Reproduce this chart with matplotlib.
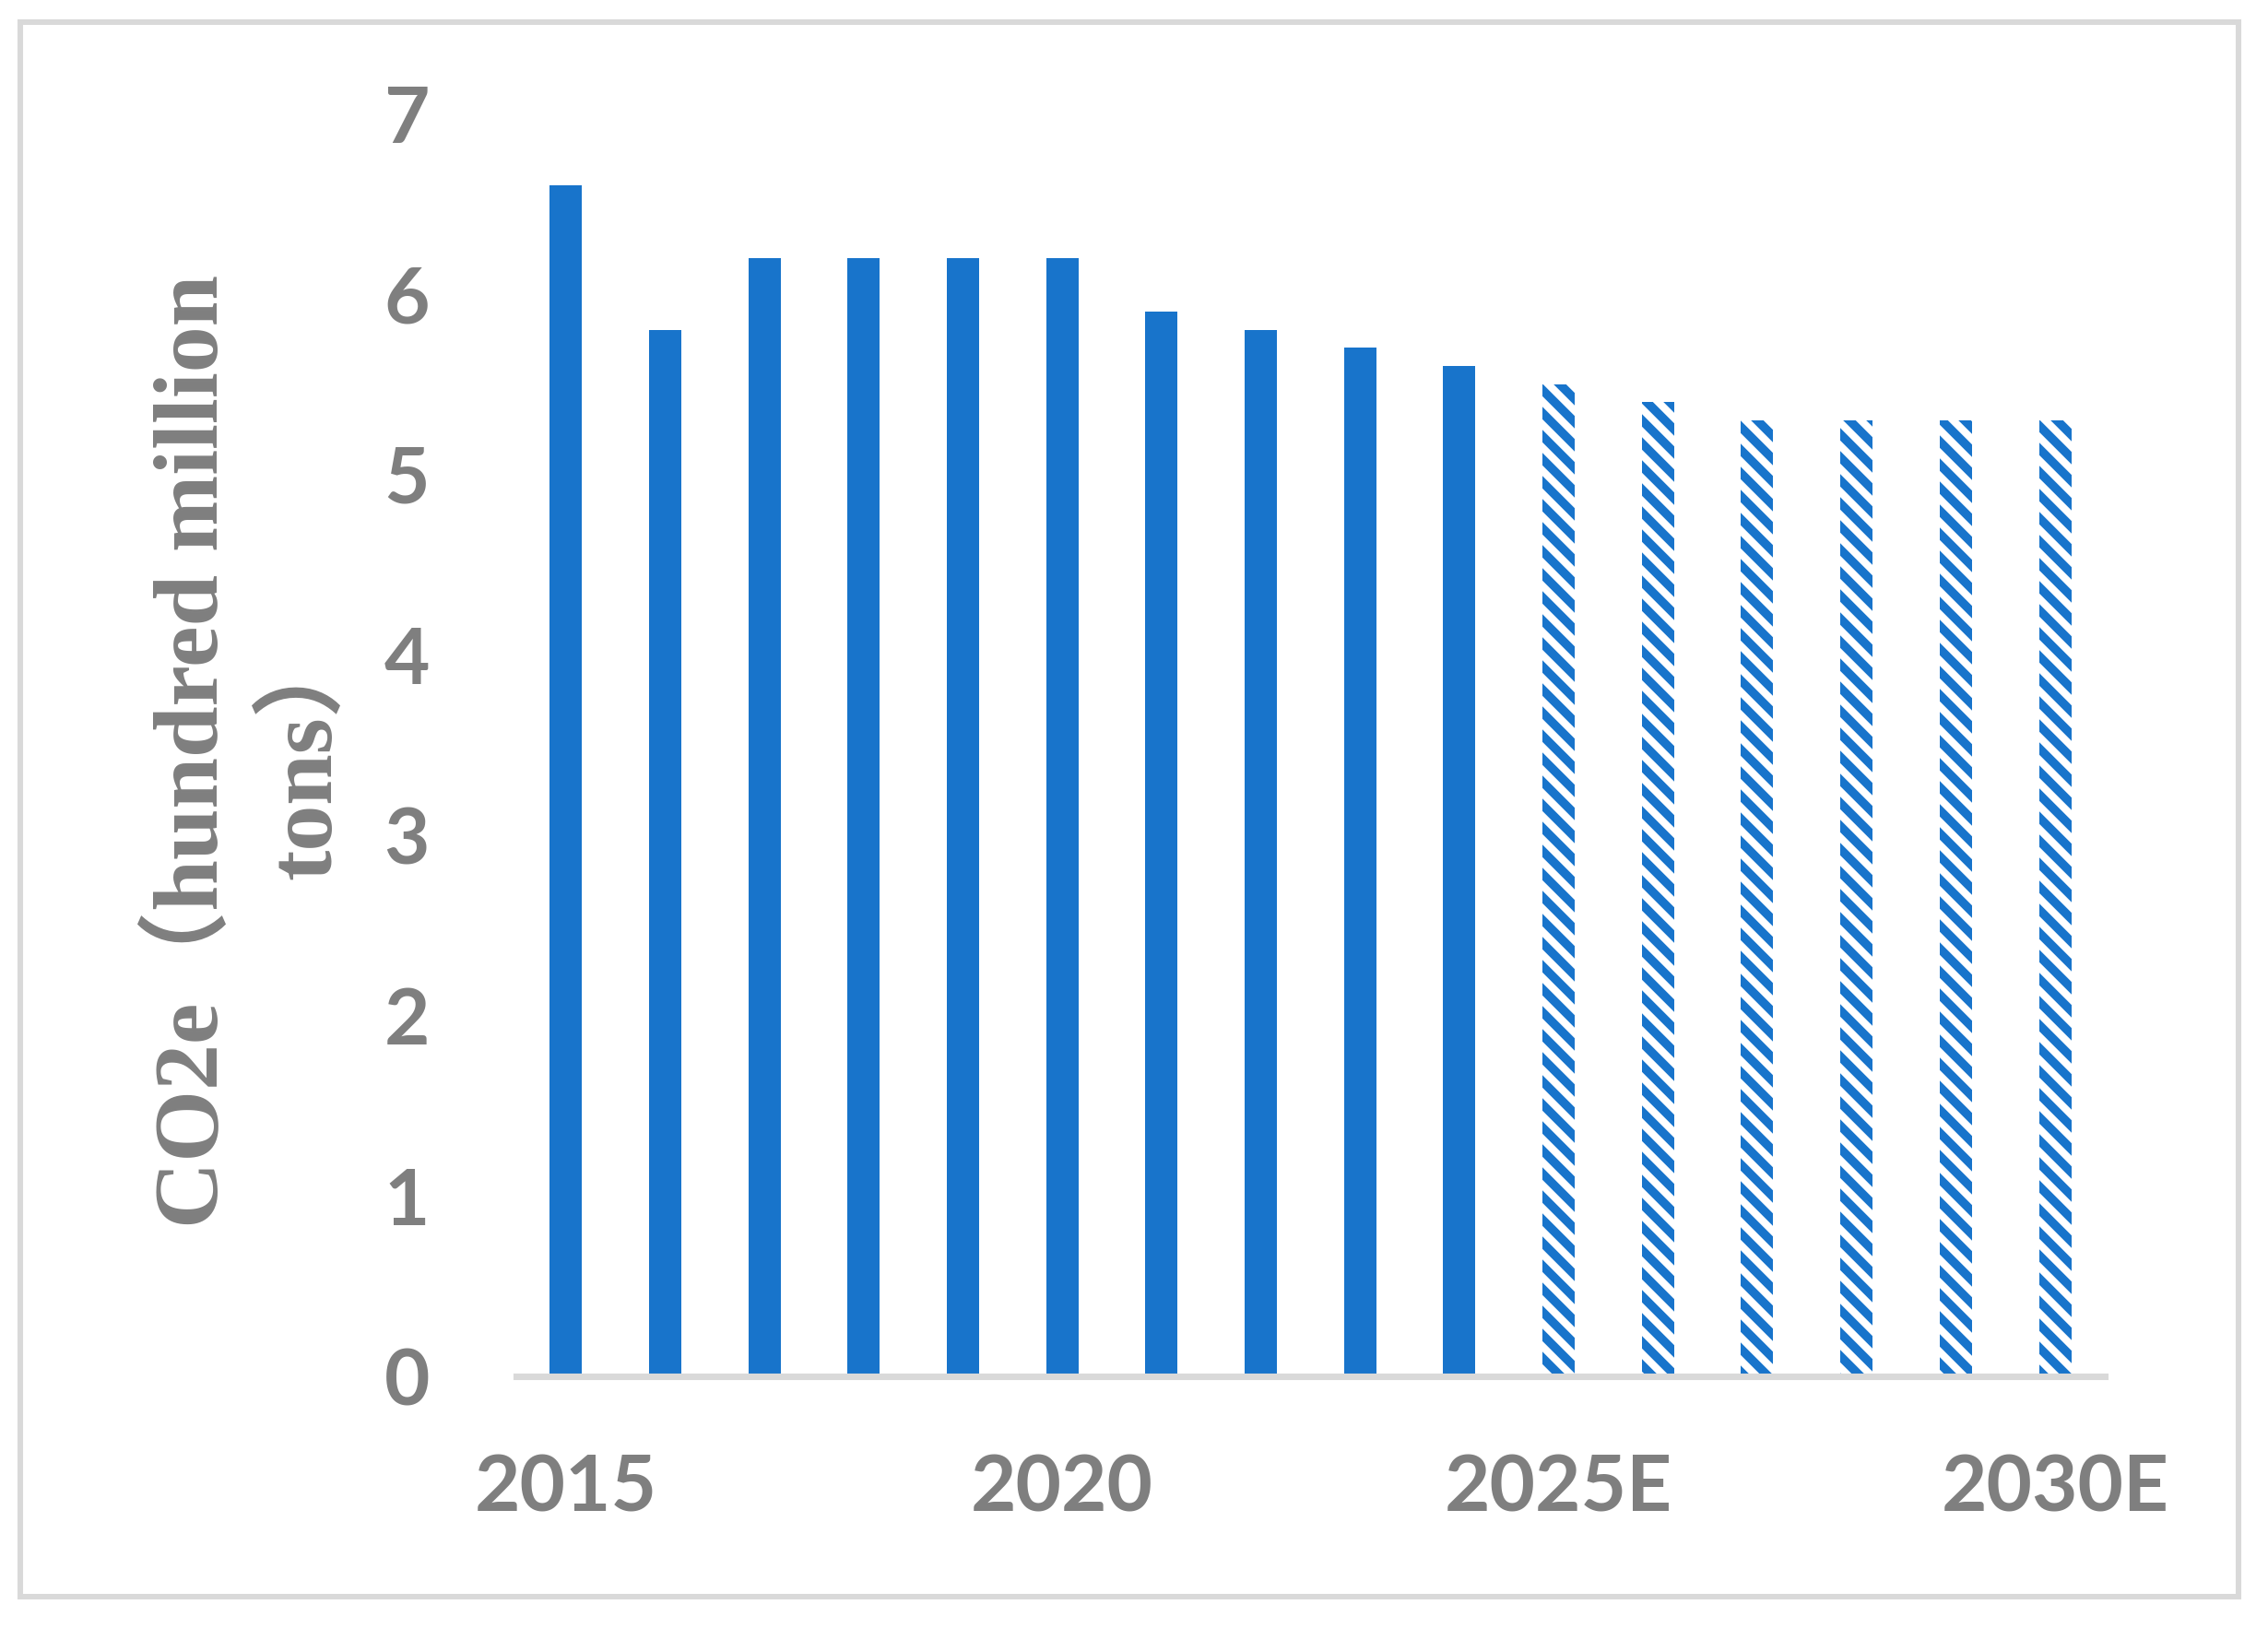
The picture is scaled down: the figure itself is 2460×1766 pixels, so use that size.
import matplotlib
matplotlib.use("Agg")
import matplotlib.pyplot as plt
from matplotlib.patches import Rectangle

# data
years = ['2015', '2016', '2017', '2018', '2019', '2020', '2021', '2022', '2023', '2024',
         '2025E', '2026E', '2027E', '2028E', '2029E', '2030E']
actual = [6.6, 5.8, 6.2, 6.2, 6.2, 6.2, 5.9, 5.8, 5.7, 5.6]
estimate = [5.5, 5.4, 5.3, 5.3, 5.3, 5.3]
label_every = 5

blue = '#1874CB'
grey = '#7F7F7F'
light = '#D9D9D9'

plt.rcParams['hatch.linewidth'] = 4.6

fig = plt.figure(figsize=(16.4, 1766 / 150), dpi=150)
fig.patches.append(Rectangle((22 / 2460, 1 - 1732 / 1766), (2428 - 22) / 2460, (1732 - 24) / 1766,
                             transform=fig.transFigure, fill=False, edgecolor=light, linewidth=2.9))

ax = fig.add_axes([0.2276, 0.1546, 0.7004, 0.7757])

n_act = len(actual)
x_act = list(range(n_act))
x_est = list(range(n_act, n_act + len(estimate)))
width = 0.325

ax.bar(x_act, actual, width=width, color=blue, linewidth=0)
ax.bar(x_est, estimate, width=width, facecolor='white', edgecolor=blue, linewidth=0, hatch='\\\\')

ax.set_xlim(-0.5, len(years) - 0.5)
ax.set_ylim(0, 7)
ax.set_yticks(range(0, 8))
ticks = list(range(0, len(years), label_every))
ax.set_xticks(ticks)
ax.set_xticklabels([years[i] for i in ticks])

for s in ['top', 'right', 'left']:
    ax.spines[s].set_visible(False)
ax.spines['bottom'].set_color(light)
ax.spines['bottom'].set_linewidth(3.4)

ax.tick_params(axis='both', length=0, labelcolor=grey, labelsize=41)
ax.tick_params(axis='y', pad=45)
ax.tick_params(axis='x', pad=40)
for lab in ax.get_xticklabels() + ax.get_yticklabels():
    lab.set_fontfamily('Lato')
    lab.set_fontweight('bold')

ax.set_ylabel('CO2e（hundred million\ntons）', fontsize=48, color=grey, fontweight='bold',
              family=['Liberation Serif', 'Noto Sans CJK SC'], linespacing=1.35, va='center')
ax.yaxis.set_label_coords(-0.168, 0.495)

fig.savefig('out.png', dpi=150)
